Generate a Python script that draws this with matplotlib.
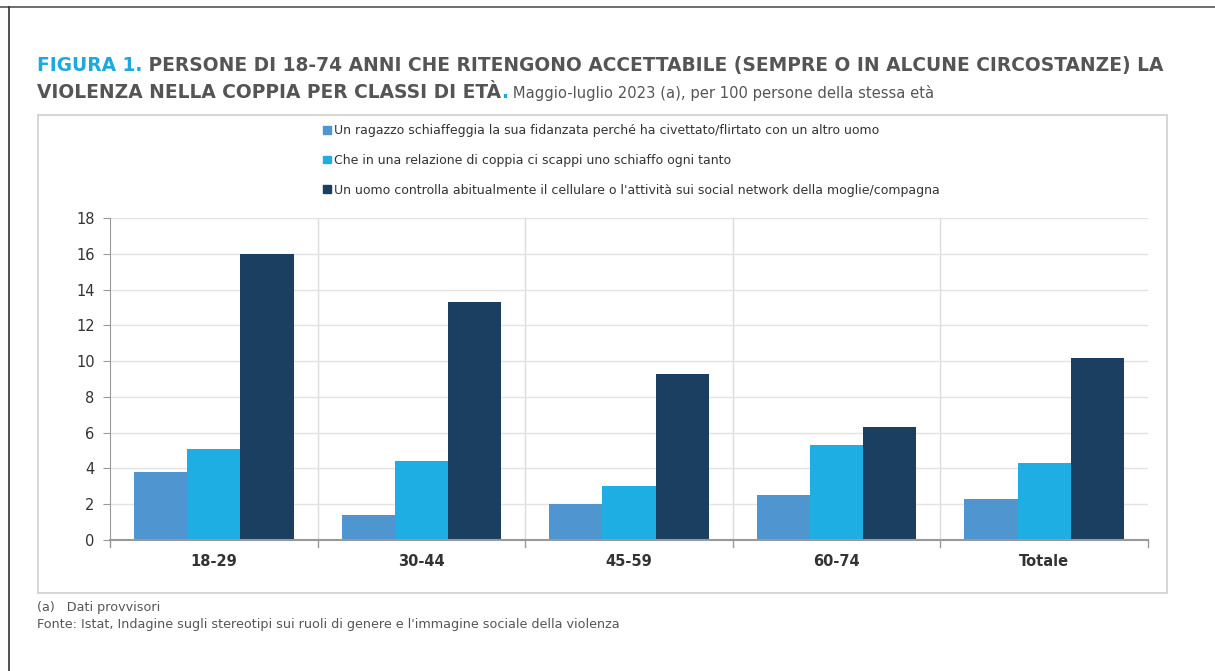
import matplotlib
matplotlib.use("Agg")
import matplotlib.pyplot as plt
import matplotlib.patches as patches
from matplotlib.lines import Line2D
import numpy as np

categories = ["18-29", "30-44", "45-59", "60-74", "Totale"]
series_names = [
    "Un ragazzo schiaffeggia la sua fidanzata perché ha civettato/flirtato con un altro uomo",
    "Che in una relazione di coppia ci scappi uno schiaffo ogni tanto",
    "Un uomo controlla abitualmente il cellulare o l'attività sui social network della moglie/compagna",
]
s1 = [3.8, 1.4, 2.0, 2.5, 2.3]
s2 = [5.1, 4.4, 3.0, 5.3, 4.3]
s3 = [16.0, 13.3, 9.3, 6.3, 10.2]
yticks = [0, 2, 4, 6, 8, 10, 12, 14, 16, 18]
colors = ["#4f95d0", "#1eaee4", "#1b3f60"]

W, H = 1215, 671
fig = plt.figure(figsize=(W / 100, H / 100), dpi=100)
fig.patch.set_facecolor("white")

FONT = ["Liberation Sans Narrow", "DejaVu Sans Condensed", "DejaVu Sans"]
TFONT = ["DejaVu Sans"]

def fx(px):
    return px / W

def fy(py):
    return 1 - py / H

# outer frame lines
fig.add_artist(Line2D([fx(0), fx(W)], [fy(7), fy(7)], color="#555555", lw=1.2))
fig.add_artist(Line2D([fx(9), fx(9)], [fy(7), fy(H)], color="#333333", lw=1.2))

# chart box
fig.add_artist(patches.Rectangle((fx(38), fy(593)), fx(1167) - fx(38), fy(115) - fy(593),
                                 transform=fig.transFigure, fill=False,
                                 edgecolor="#cfcfcf", lw=1.2))

# axes
ax = fig.add_axes([fx(110), fy(540), fx(1148) - fx(110), fy(218) - fy(540)])
x = np.arange(len(categories))
bw = 0.256
for i, (vals, c) in enumerate(zip([s1, s2, s3], colors)):
    ax.bar(x + (i - 1) * bw, vals, width=bw, color=c, label=series_names[i], zorder=3)

ax.set_xlim(-0.5, len(categories) - 0.5)
ax.set_ylim(0, 18)
ax.set_yticks(yticks)
ax.set_yticklabels([str(v) for v in yticks], fontfamily=FONT, fontsize=10.5, color="#333333")
ax.set_xticks(x)
ax.set_xticklabels(categories, fontfamily=FONT, fontsize=10.5, fontweight="bold", color="#333333")
ax.tick_params(axis="x", length=0, pad=10)
ax.tick_params(axis="y", length=5, color="#999999", pad=6, direction="out")
for b in np.arange(0.5, len(categories) - 0.5, 1.0):
    ax.axvline(b, color="#dcdcdc", lw=1, zorder=1)
for b in np.arange(-0.5, len(categories) + 0.5, 1.0):
    ax.plot([b, b], [0, -0.4], color="#999999", lw=1, clip_on=False, zorder=4)
ax.yaxis.grid(True, color="#e3e3e3", lw=1, zorder=0)
for s in ["top", "right"]:
    ax.spines[s].set_visible(False)
ax.spines["left"].set_color("#999999")
ax.spines["bottom"].set_color("#999999")
ax.spines["bottom"].set_linewidth(1.5)
ax.spines["bottom"].set_zorder(5)

# legend
leg = fig.legend(handles=[patches.Patch(color=c) for c in colors], labels=series_names,
                 loc="upper left", bbox_to_anchor=(fx(318), fy(119)), frameon=False,
                 prop={"family": FONT, "size": 9.0}, handlelength=0.6, handleheight=0.6,
                 handletextpad=0.3, labelspacing=1.35, borderaxespad=0)
for t in leg.get_texts():
    t.set_color("#333333")

# titles (multi-colour)
fig.canvas.draw()
renderer = fig.canvas.get_renderer()

def seq(parts, px, py):
    xx = fx(px)
    for text, color, weight, size, fam in parts:
        t = fig.text(xx, fy(py), text, color=color, fontweight=weight, fontsize=size,
                     fontfamily=fam, va="baseline", ha="left")
        bb = t.get_window_extent(renderer=renderer)
        xx = bb.x1 / (W)
    return xx

TS = 13.45
seq([("FIGURA 1.", "#1ea8e0", "bold", TS, TFONT),
     (" PERSONE DI 18-74 ANNI CHE RITENGONO ACCETTABILE (SEMPRE O IN ALCUNE CIRCOSTANZE) LA",
      "#555555", "bold", TS, TFONT)], 37, 71)
seq([("VIOLENZA NELLA COPPIA PER CLASSI DI ETÀ", "#555555", "bold", TS, TFONT),
     (".", "#1ea8e0", "bold", TS, TFONT),
     (" Maggio-luglio 2023 (a), per 100 persone della stessa età", "#555555", "normal", 10.6, FONT)],
    37, 98)

# footer
fig.text(fx(37), fy(611), "(a)   Dati provvisori", fontfamily=FONT, fontsize=9.2,
         color="#555555", va="baseline")
fig.text(fx(37), fy(628),
         "Fonte: Istat, Indagine sugli stereotipi sui ruoli di genere e l'immagine sociale della violenza",
         fontfamily=FONT, fontsize=9.2, color="#555555", va="baseline")

fig.savefig("out.png", dpi=100)
